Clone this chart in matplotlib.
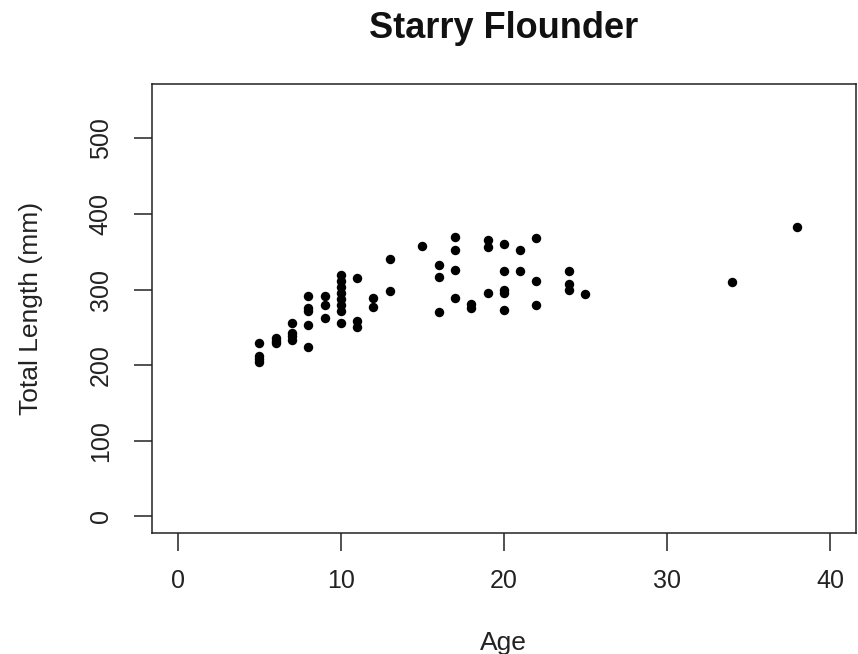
import matplotlib
matplotlib.use("Agg")
import matplotlib.pyplot as plt

# Age (years) and total length (mm) of sampled starry flounder
age = [5, 5, 5, 5,
       6, 6, 6,
       7, 7, 7, 7,
       8, 8, 8, 8, 8,
       9, 9, 9,
       10, 10, 10, 10, 10, 10, 10, 10,
       11, 11, 11,
       12, 12,
       13, 13,
       15,
       16, 16, 16,
       17, 17, 17, 17,
       18, 18,
       19, 19, 19,
       20, 20, 20, 20, 20,
       21, 21,
       22, 22, 22,
       24, 24, 24,
       25,
       34,
       38]
length_mm = [229, 212, 208, 204,
             236, 232, 229,
             256, 243, 238, 233,
             291, 276, 272, 253, 224,
             291, 279, 262,
             319, 311, 304, 296, 288, 280, 272, 256,
             315, 259, 250,
             289, 277,
             340, 298,
             358,
             333, 317, 271,
             370, 353, 326, 289,
             281, 275,
             365, 356, 296,
             360, 325, 299, 295, 273,
             353, 325,
             368, 312, 279,
             325, 308, 300,
             294,
             310,
             383]

x_ticks = [0, 10, 20, 30, 40]
y_ticks = [0, 100, 200, 300, 400, 500]

plt.rcParams['font.family'] = ['Liberation Sans', 'DejaVu Sans']

fig = plt.figure(figsize=(8.58, 6.54), dpi=100)
ax = fig.add_axes([0.1768, 0.185, 0.8209, 0.6866])

ax.plot(age, length_mm, 'o', color='black', markersize=6.8, markeredgewidth=0)

ax.set_xlim(-1.6, 41.6)
ax.set_ylim(-22, 572)
ax.set_xticks(x_ticks)
ax.set_yticks(y_ticks)
ax.set_xticklabels([str(v) for v in x_ticks])
ax.set_yticklabels([str(v) for v in y_ticks], rotation=90, va='center')

ax.tick_params(axis='both', direction='out', length=13, width=1.1,
               colors='#222222', labelsize=18, labelcolor='#222222')
ax.tick_params(axis='x', pad=13)
ax.tick_params(axis='y', pad=15)

for sp in ax.spines.values():
    sp.set_linewidth(1.1)
    sp.set_color('#222222')

ax.set_xlabel('Age', fontsize=19, color='#222222', labelpad=27)
ax.set_ylabel('Total Length (mm)', fontsize=19, color='#222222', labelpad=33)
fig.text(0.587, 0.957, 'Starry Flounder', fontsize=26, fontweight='bold',
         ha='center', va='center', color='#111111')

fig.savefig('out.png', dpi=100, facecolor='white')
